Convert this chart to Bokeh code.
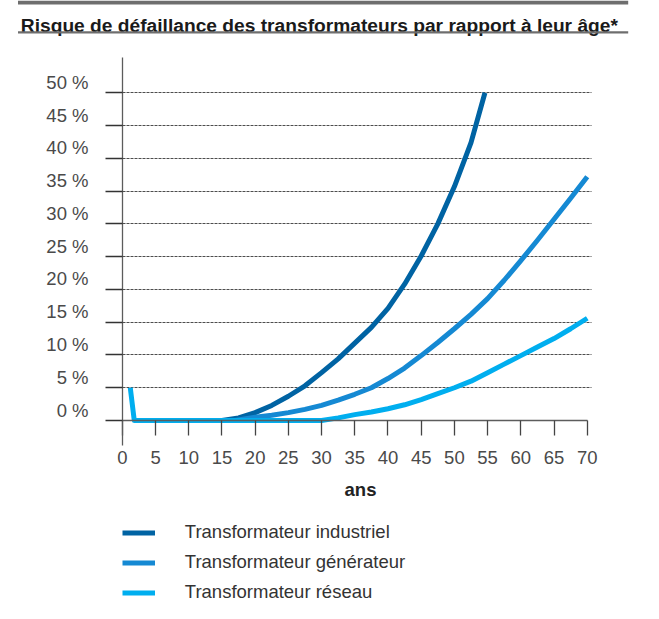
from bokeh.plotting import figure
from bokeh.models import (Range1d, LinearAxis, FixedTicker, Grid, Legend, LegendItem,
                          Label, BoxAnnotation)
from bokeh.core.properties import value
from bokeh.embed import file_html
from bokeh.resources import INLINE

# ---------------- data ----------------
title_text = "Risque de défaillance des transformateurs par rapport à leur âge*"
x_axis_title = "ans"

x_tick_values = [0, 5, 10, 15, 20, 25, 30, 35, 40, 45, 50, 55, 60, 65, 70]
x_tick_labels = ["0", "5", "10", "15", "20", "25", "30", "35", "40", "45", "50", "55", "60", "65", "70"]
y_tick_values = [0, 5, 10, 15, 20, 25, 30, 35, 40, 45, 50]
y_tick_labels = ["0 %", "5 %", "10 %", "15 %", "20 %", "25 %", "30 %", "35 %", "40 %", "45 %", "50 %"]

series_names = ["Transformateur industriel", "Transformateur générateur", "Transformateur réseau"]

industrial_age = [15, 17.5, 20, 22.5, 25, 27.5, 30, 32.5, 35, 37.5, 40, 42.5, 45, 47.5, 50, 52.5, 54.6]
industrial_risk = [0, 0.4, 1.2, 2.3, 3.7, 5.3, 7.3, 9.4, 11.8, 14.2, 17.1, 20.8, 25.1, 30.0, 35.7, 42.4, 50]

generator_age = [17, 20, 22.5, 25, 27.5, 30, 32.5, 35, 37.5, 40, 42.5, 45, 47.5, 50, 52.5, 55,
                 57.5, 60, 62.5, 65, 67.5, 70]
generator_risk = [0, 0.5, 0.8, 1.2, 1.7, 2.3, 3.1, 4.0, 5.0, 6.4, 8.0, 9.9, 11.9, 14.0, 16.2, 18.6,
                  21.4, 24.4, 27.5, 30.7, 33.9, 37.2]

network_age = [1.2, 1.8, 30, 32.5, 35, 37.5, 40, 42.5, 45, 47.5, 50, 52.5, 55, 57.5, 60, 62.5, 65, 67.5, 70]
network_risk = [5, 0, 0, 0.4, 0.9, 1.3, 1.8, 2.4, 3.2, 4.1, 5.0, 6.0, 7.3, 8.6, 9.9, 11.2, 12.5, 14.0, 15.6]

series_colors = ["#0063a3", "#1589d3", "#00aeef"]

FONT = "Liberation Sans"
H = 603

# ---------------- figure ----------------
p = figure(width=643, height=H,
           x_range=Range1d(-18.34, 78.47), y_range=Range1d(-27.92, 64.08),
           x_axis_location=None, y_axis_location=None,
           toolbar_location=None, output_backend="svg",
           min_border=0, outline_line_color=None,
           background_fill_color="white", border_fill_color="white")
p.center = []  # drop default grids

# horizontal dashed grid
grid_ticks = y_tick_values[1:]
try:
    ygrid = Grid(dimension=1, ticker=FixedTicker(ticks=grid_ticks), cross_bounds=(0, 70.6),
                 grid_line_color="#4d4d4d", grid_line_width=1, grid_line_dash="3 1")
    p.add_layout(ygrid)
except AttributeError:
    p.segment(x0=[0] * len(grid_ticks), x1=[70.6] * len(grid_ticks),
              y0=grid_ticks, y1=grid_ticks,
              line_color="#4d4d4d", line_width=1, line_dash="3 1")

# y axis (line + ticks); labels drawn slightly above their ticks as in the original
yaxis = LinearAxis(fixed_location=0, bounds=(-3.8, 55.4),
                   ticker=FixedTicker(ticks=y_tick_values),
                   major_tick_out=17, major_tick_in=0,
                   minor_tick_out=0, minor_tick_in=0,
                   axis_line_color="#5c5c5c", axis_line_width=1.3,
                   major_tick_line_color="#333333", major_tick_line_width=1.3,
                   major_label_text_color=None)
p.add_layout(yaxis, "left")
p.text(x=[0] * len(y_tick_values), y=y_tick_values, text=y_tick_labels,
       x_offset=-33.8, y_offset=-10.5, text_align="right", text_baseline="middle",
       text_font=value(FONT), text_font_size=value("18.5px"), text_color="#4a4a4a")

# x axis
xaxis = LinearAxis(fixed_location=0, bounds=(0, 70),
                   ticker=FixedTicker(ticks=x_tick_values),
                   major_label_overrides=dict(zip(x_tick_values, x_tick_labels)),
                   major_tick_out=15, major_tick_in=0,
                   minor_tick_out=0, minor_tick_in=0,
                   axis_line_color="#5c5c5c", axis_line_width=1.3,
                   major_tick_line_color="#444444", major_tick_line_width=1.3,
                   major_label_standoff=15,
                   major_label_text_font=FONT, major_label_text_font_size="18.5px",
                   major_label_text_color="#4a4a4a")
p.add_layout(xaxis, "below")

# series
r1 = p.line(industrial_age, industrial_risk, line_color=series_colors[0], line_width=5, line_join="round")
r2 = p.line(generator_age, generator_risk, line_color=series_colors[1], line_width=5, line_join="round")
r3 = p.line(network_age, network_risk, line_color=series_colors[2], line_width=5, line_join="round")

legend = Legend(items=[LegendItem(label=series_names[0], renderers=[r1]),
                       LegendItem(label=series_names[1], renderers=[r2]),
                       LegendItem(label=series_names[2], renderers=[r3])],
                location=(121.8, 0), orientation="vertical",
                glyph_width=33, glyph_height=21, label_height=21, spacing=8,
                label_standoff=30, padding=0, margin=0,
                border_line_color=None, background_fill_alpha=0,
                label_text_font=FONT, label_text_font_size="18.5px",
                label_text_color="#333333")
p.add_layout(legend)

# x-axis title
p.add_layout(Label(x=35.86, y=-10.6, text=x_axis_title, text_align="center",
                   text_baseline="alphabetic", text_font=FONT, text_font_size="18.5px",
                   text_font_style="bold", text_color="#222222"))

# chart title and rules
p.add_layout(Label(x=20.3, y=H - 25, x_units="screen", y_units="screen", text=title_text,
                   text_align="left", text_baseline="alphabetic", text_font=FONT,
                   text_font_size="19.2px", text_font_style="bold", text_color="#1a1a1a"))
for top_px, bottom_px in [(0, 4), (30.7, 33)]:
    p.add_layout(BoxAnnotation(left=17.5, right=627.7, bottom=H - bottom_px, top=H - top_px,
                               left_units="screen", right_units="screen",
                               bottom_units="screen", top_units="screen",
                               fill_color="#6e6e6e", fill_alpha=1, line_color=None,
                               level="overlay"))

open("out.html", "w").write(file_html(p, INLINE))
